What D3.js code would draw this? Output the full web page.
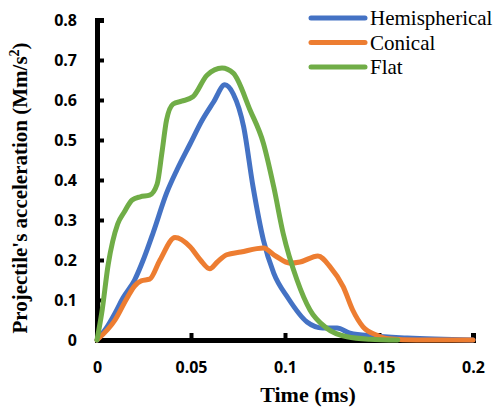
<!DOCTYPE html>
<html>
<head>
<meta charset="utf-8">
<script src="https://cdn.jsdelivr.net/npm/d3@7"></script>
<style>
  body { margin: 0; background: #fff; }
  svg { display: block; }
</style>
</head>
<body>
<div id="chart"></div>
<script>
// Values (time in ms, acceleration in Mm/s^2)
var hemiTime = [0, 0.005, 0.0096, 0.0138, 0.02, 0.025, 0.03, 0.037, 0.0425, 0.0495, 0.056, 0.062, 0.068, 0.0725, 0.078, 0.083, 0.0885, 0.094, 0.1016, 0.1117, 0.12, 0.1277, 0.1346, 0.147, 0.165, 0.2];
var hemiAcc  = [0, 0.03, 0.067, 0.105, 0.15, 0.205, 0.27, 0.367, 0.425, 0.49, 0.55, 0.595, 0.638, 0.615, 0.533, 0.383, 0.25, 0.167, 0.105, 0.045, 0.03, 0.03, 0.017, 0.01, 0.005, 0];

var conicalTime = [0, 0.0096, 0.016, 0.02, 0.0235, 0.028, 0.0335, 0.0415, 0.0495, 0.055, 0.06, 0.064, 0.069, 0.0765, 0.0885, 0.095, 0.1027, 0.108, 0.1175, 0.124, 0.131, 0.136, 0.1415, 0.149, 0.155, 0.17, 0.2];
var conicalAcc  = [0, 0.05, 0.105, 0.135, 0.148, 0.152, 0.2, 0.256, 0.233, 0.2, 0.178, 0.195, 0.213, 0.22, 0.23, 0.21, 0.192, 0.195, 0.21, 0.183, 0.133, 0.075, 0.033, 0.012, 0.003, 0, 0];

var flatTime = [0, 0.0025, 0.006, 0.011, 0.0145, 0.0187, 0.023, 0.028, 0.032, 0.0345, 0.037, 0.0405, 0.045, 0.051, 0.0585, 0.0665, 0.0725, 0.0814, 0.0885, 0.094, 0.099, 0.1064, 0.1133, 0.122, 0.133, 0.145, 0.16];
var flatAcc  = [0, 0.067, 0.19, 0.29, 0.32, 0.35, 0.358, 0.362, 0.39, 0.467, 0.55, 0.59, 0.597, 0.608, 0.662, 0.68, 0.667, 0.575, 0.492, 0.383, 0.267, 0.15, 0.075, 0.03, 0.008, 0.002, 0];

var seriesNames = ["Hemispherical", "Conical", "Flat"];
var seriesColors = ["#4472C4", "#ED7D31", "#70AD47"];
var xTicks = [0, 0.05, 0.1, 0.15, 0.2];
var yTicks = [0, 0.1, 0.2, 0.3, 0.4, 0.5, 0.6, 0.7, 0.8];

var W = 497, H = 408;

var svg = d3.select("#chart")
  .append("svg")
  .attr("width", W)
  .attr("height", H);

// scales
var x = d3.scaleLinear().domain([0, 0.2]).range([97, 473]);
var y = d3.scaleLinear().domain([0, 0.8]).range([340, 20]);

var series = [
  {name: seriesNames[0], color: seriesColors[0], values: d3.zip(hemiTime, hemiAcc)},
  {name: seriesNames[1], color: seriesColors[1], values: d3.zip(conicalTime, conicalAcc)},
  {name: seriesNames[2], color: seriesColors[2], values: d3.zip(flatTime, flatAcc)}
];

var line = d3.line()
  .x(function(d) { return x(d[0]); })
  .y(function(d) { return y(d[1]); })
  .curve(d3.curveMonotoneX);

var tickFont = "'Open Sans', sans-serif";
var serif = "'Liberation Serif', 'Times New Roman', serif";

// axes
var xAxis = d3.axisBottom(x)
  .tickValues(xTicks)
  .tickSize(-7)
  .tickFormat(function(d) { return d === 0 ? "0" : String(d); });

var yAxis = d3.axisLeft(y)
  .tickValues(yTicks)
  .tickSize(-7)
  .tickFormat(function(d) { return d === 0 ? "0" : d.toFixed(1); });

var gx = svg.append("g")
  .attr("class", "x axis")
  .attr("transform", "translate(0,340)")
  .call(xAxis);

var gy = svg.append("g")
  .attr("class", "y axis")
  .attr("transform", "translate(97,0)")
  .call(yAxis);

[gx, gy].forEach(function(g) {
  g.select(".domain").attr("stroke", "#000").attr("stroke-width", 5);
  g.selectAll(".tick line").attr("stroke", "#000").attr("stroke-width", 4);
  g.selectAll(".tick text")
    .attr("fill", "#000")
    .style("font-family", tickFont)
    .style("font-weight", "bold")
    .style("font-size", "16px");
});

gx.selectAll(".tick text").attr("y", 22).attr("dy", "0.71em").attr("y", 21.5);
gx.selectAll(".tick text").attr("dy", null).attr("y", 33);
gy.selectAll(".tick text").attr("x", -20).attr("dy", "0.36em");

// lines
svg.append("g")
  .selectAll("path")
  .data(series)
  .join("path")
  .attr("d", function(d) { return line(d.values); })
  .attr("fill", "none")
  .attr("stroke", function(d) { return d.color; })
  .attr("stroke-width", 5)
  .attr("stroke-linejoin", "round")
  .attr("stroke-linecap", "round");

// axis titles
svg.append("text")
  .attr("x", 308)
  .attr("y", 402)
  .attr("text-anchor", "middle")
  .style("font-family", serif)
  .style("font-weight", "bold")
  .style("font-size", "22px")
  .text("Time (ms)");

var yl = svg.append("text")
  .attr("transform", "translate(27,188) rotate(-90)")
  .attr("text-anchor", "middle")
  .style("font-family", serif)
  .style("font-weight", "bold")
  .style("font-size", "21px");
yl.append("tspan").text("Projectile's acceleration (Mm/s");
yl.append("tspan").attr("dy", -8).style("font-size", "14px").text("2");
yl.append("tspan").attr("dy", 8).text(")");

// legend
var legend = svg.append("g")
  .selectAll("g")
  .data(series)
  .join("g")
  .attr("transform", function(d, i) { return "translate(0," + (18 + i * 24.5) + ")"; });

legend.append("line")
  .attr("x1", 311).attr("x2", 365)
  .attr("stroke", function(d) { return d.color; })
  .attr("stroke-width", 5)
  .attr("stroke-linecap", "round");

legend.append("text")
  .attr("x", 370)
  .attr("y", 7)
  .style("font-family", serif)
  .style("font-size", "21px")
  .text(function(d) { return d.name; });
</script>
</body>
</html>
